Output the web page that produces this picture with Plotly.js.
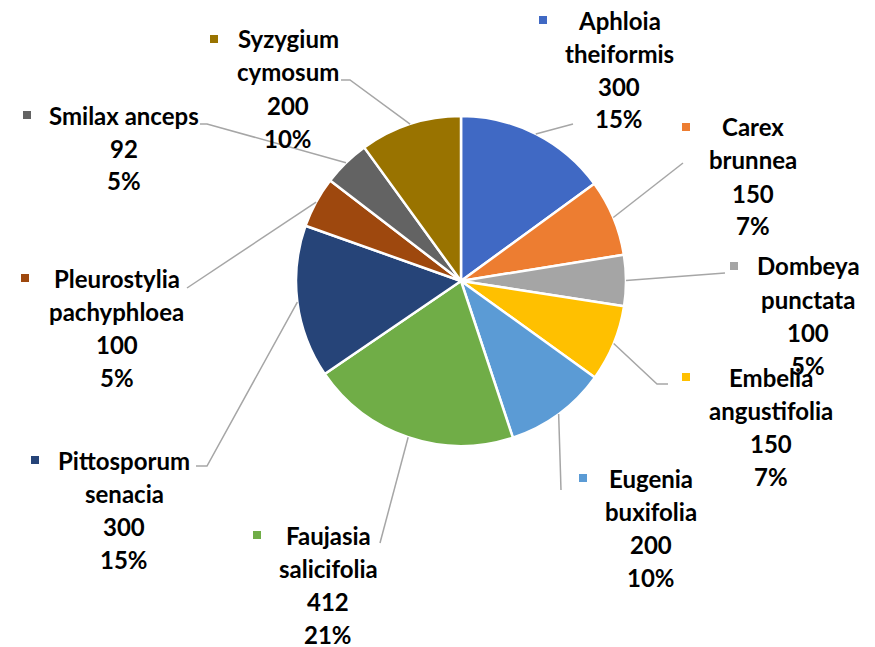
<!DOCTYPE html>
<html>
<head>
<meta charset="utf-8">
<script src="https://cdn.plot.ly/plotly-3.0.1.min.js"></script>
<style>html,body{margin:0;padding:0;background:#fff;}#chart{width:875px;height:647px;}</style>
</head>
<body>
<div id="chart"></div>
<script>
// ---- data ----
const categories = ["Aphloia theiformis","Carex brunnea","Dombeya punctata","Embelia angustifolia","Eugenia buxifolia","Faujasia salicifolia","Pittosporum senacia","Pleurostylia pachyphloea","Smilax anceps","Syzygium cymosum"];
const values = [300,150,100,150,200,412,300,100,92,200];
const labelNames = ["Aphloia<br>theiformis","Carex<br>brunnea","Dombeya<br>punctata","Embelia<br>angustifolia","Eugenia<br>buxifolia","Faujasia<br>salicifolia","Pittosporum<br>senacia","Pleurostylia<br>pachyphloea","Smilax anceps","Syzygium<br>cymosum"];
const colors = ["#4069C4","#ED7D31","#A5A5A5","#FFC000","#5B9BD5","#70AD47","#264478","#9E480E","#636363","#997300"];

// ---- layout (pixels) ----
const W = 875, H = 647;
const cx = 461, cy = 281, R = 165;
// label centre x, first line y, marker x
const labelPos = [
  [619, 20, 543], [753, 127, 686], [808, 266, 734], [771, 377, 686], [651, 478, 583],
  [328, 535, 257], [124, 460, 35], [117, 278, 25], [124, 115, 27], [288, 39, 214]
];
// leader line bend/end points
const leaderPts = [
  [[573,124]], [[683,163]], [[725,273]], [[657,384],[668,384]], [[561,490]],
  [[380,543]], [[207,466],[196,466]], [[187,288]], [[207,124],[200,124]], [[350,80],[341,80]]
];
const lineGap = 33;

const px = x => x / W;
const py = y => 1 - y / H;

const total = values.reduce((a, b) => a + b, 0);
const annotations = [];
const shapes = [];
let cum = 0;
values.forEach((v, i) => {
  const mid = (cum + v / 2) / total * 2 * Math.PI;
  cum += v;
  const sx = cx + R * Math.sin(mid), sy = cy - R * Math.cos(mid);
  let path = `M${px(sx)},${py(sy)}`;
  leaderPts[i].forEach(p => { path += ` L${px(p[0])},${py(p[1])}`; });
  shapes.push({type: 'path', xref: 'paper', yref: 'paper', path: path,
    line: {color: '#A6A6A6', width: 1.5}});
  const lines = labelNames[i].split('<br>').concat([String(v), Math.round(v / total * 100) + '%']);
  const [lx, ly, mx] = labelPos[i];
  lines.forEach((t, k) => {
    annotations.push({xref: 'paper', yref: 'paper', x: px(lx), y: py(ly + k * lineGap),
      xanchor: 'center', yanchor: 'middle', showarrow: false, text: t,
      font: {family: 'Lato, "Open Sans", sans-serif', size: 24, color: '#000', weight: 700}});
  });
  shapes.push({type: 'rect', xref: 'paper', yref: 'paper',
    x0: px(mx - 4), x1: px(mx + 4), y0: py(ly - 4), y1: py(ly + 4),
    fillcolor: colors[i], line: {width: 0}});
});

const trace = {
  type: 'pie', labels: categories, values: values, sort: false, direction: 'clockwise',
  rotation: 0, textinfo: 'none', hoverinfo: 'label+value+percent',
  marker: {colors: colors, line: {color: '#FFFFFF', width: 2.5}},
  domain: {x: [px(cx - R), px(cx + R)], y: [py(cy + R), py(cy - R)]},
  showlegend: false
};

Plotly.newPlot('chart', [trace], {
  width: W, height: H, margin: {l: 0, r: 0, t: 0, b: 0},
  paper_bgcolor: '#FFFFFF', showlegend: false,
  annotations: annotations, shapes: shapes
}, {displayModeBar: false, staticPlot: true});
</script>
</body>
</html>
